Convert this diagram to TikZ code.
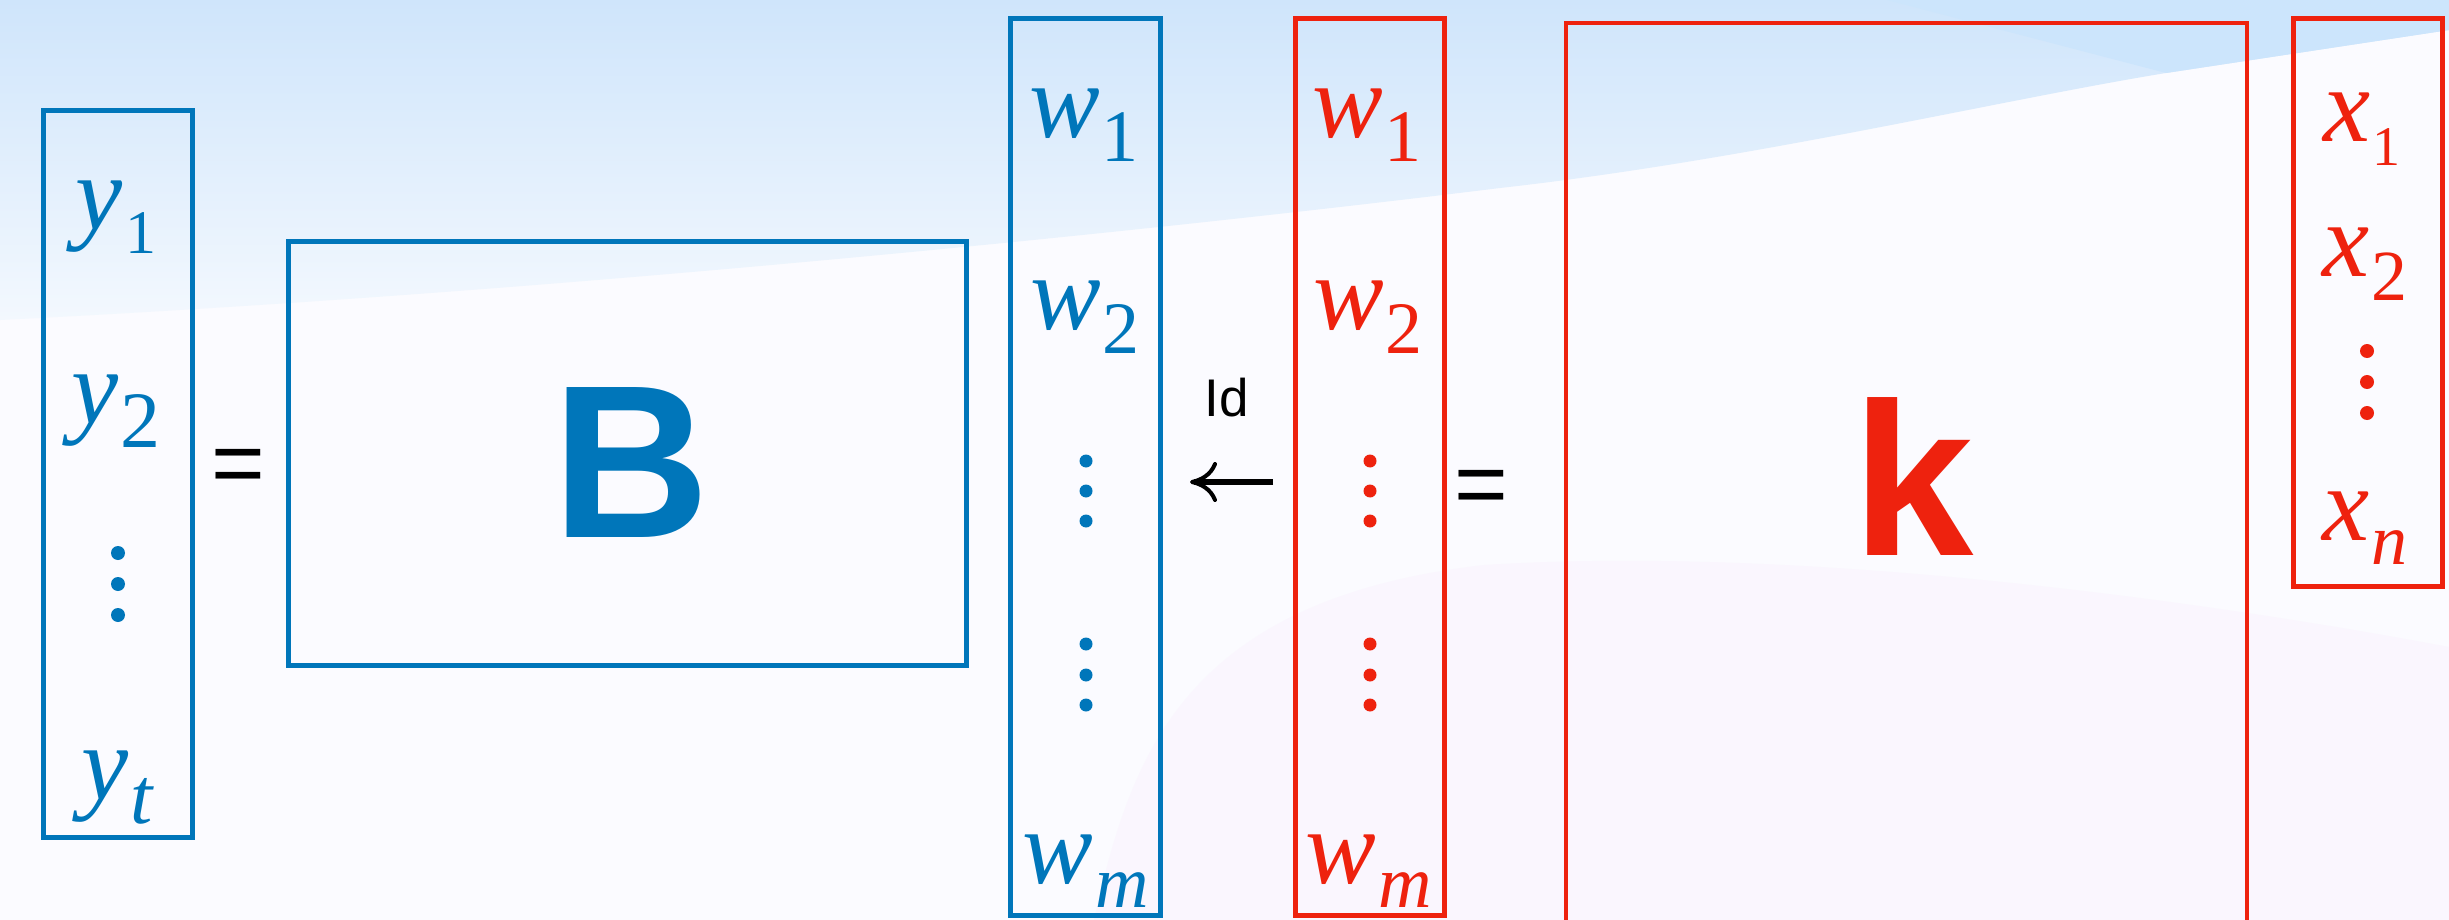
\documentclass[tikz,border=0pt]{standalone}
\usepackage{fontspec}
\setmainfont{Liberation Serif}
\newfontfamily\hsans{Liberation Sans}
\usetikzlibrary{arrows.meta}
\definecolor{vblue}{RGB}{0,118,186}
\definecolor{vred}{RGB}{238,34,14}
\definecolor{bgbase}{RGB}{251,251,255}
\definecolor{lav}{RGB}{250,246,254}
\definecolor{bandtop}{RGB}{207,229,251}
\definecolor{bandbot}{RGB}{243,248,254}
\definecolor{wedge}{RGB}{204,229,252}
\newcommand{\ventry}[3]{{\fontsize{53}{60}\selectfont\itshape #1}\kern1pt\raisebox{-12pt}{\fontsize{#3}{#3}\selectfont #2}}
\tikzset{
  vecbox/.style={line width=2.5pt},
  bluebox/.style={vecbox, draw=vblue},
  redbox/.style={vecbox, draw=vred},
  entry/.style={anchor=base, inner sep=0pt},
  bluetxt/.style={entry, text=vblue},
  redtxt/.style={entry, text=vred},
  bigletter/.style={anchor=base, inner sep=0pt, font=\hsans\bfseries\fontsize{109}{120}\selectfont},
  eqsign/.style={anchor=base, inner sep=0pt, font=\hsans\fontsize{46}{50}\selectfont},
  idarrow/.style={line width=3.4pt, -{Computer Modern Rightarrow[length=13.5pt,width=20pt,line width=2pt]}},
}
\begin{document}
\begin{tikzpicture}[x=0.5pt,y=-0.5pt]
\useasboundingbox (0,0) rectangle (2449,920);
\clip (0,0) rectangle (2449,920);
% background
\fill[bgbase] (0,0) rectangle (2449,920);
\fill[lav] (1094,920) .. controls (1130,760) and (1180,600) .. (1484,565) .. controls (1800,545) and (2200,600) .. (2449,647) -- (2449,920) -- cycle;
\shade[top color=bandtop, bottom color=bandbot] (0,0) -- (2449,0) -- (2449,30) -- (2166,73) .. controls (2000,100) and (1750,160) .. (1500,188) .. controls (1200,225) and (600,290) .. (0,320) -- cycle;
\fill[wedge] (1887,0) -- (2449,0) -- (2449,30) -- (2166,73) -- cycle;

% boxes
\draw[bluebox] (43,110.5) rectangle (192.5,837.5);
\draw[bluebox] (288,241.5) rectangle (966,665.5);
\draw[bluebox] (1010.5,18.5) rectangle (1160,915.5);
\draw[redbox] (1295.5,18.5) rectangle (1444.5,915.5);
\draw[redbox, line width=2pt] (1565.5,23.5) rectangle (2246.5,960);
\draw[redbox] (2293.5,18.5) rectangle (2442.5,586.5);

% y vector
\node[bluetxt] (y1) at (116,229) {\ventry{y}{1}{31}};
\node[bluetxt] (y2) at (116,423) {\ventry{y}{2}{40}};
\node[bluetxt] (yt) at (117,799) {\ventry{y}{\itshape t}{40}};
\foreach \yy in {553,584,615} \fill[vblue] (118,\yy) circle (7);

% equals
\node[eqsign] (eq1) at (238.5,494) {=};
\node[eqsign] (eq2) at (1481,515) {=};

% B
\node[bigletter, text=vblue] (B) at (631,537) {B};

% blue w
\node[bluetxt] (bw1) at (1084,138) {\ventry{w}{1}{37}};
\node[bluetxt] (bw2) at (1085,329) {\ventry{w}{2}{37}};
\node[bluetxt] (bwm) at (1086,883) {\ventry{w}{\itshape m}{37}};
\foreach \yy in {461,491,521,644,675,705} \fill[vblue] (1086,\yy) circle (6.5);

% red w
\node[redtxt] (rw1) at (1367,138) {\ventry{w}{1}{37}};
\node[redtxt] (rw2) at (1368,329) {\ventry{w}{2}{37}};
\node[redtxt] (rwm) at (1369,883) {\ventry{w}{\itshape m}{37}};
\foreach \yy in {461,491,521,644,675,705} \fill[vred] (1370,\yy) circle (6.5);

% arrow and label
\coordinate (arrS) at (1273,482);
\coordinate (arrE) at (1190,482);
\draw[idarrow] (arrS) -- (arrE);
\node[anchor=base, inner sep=0pt, font=\hsans\fontsize{26.5}{30}\selectfont] (idlab) at (1227,416) {Id};

% k
\node[bigletter, text=vred] (K) at (1913,555) {k};

% x vector
\node[redtxt] (x1) at (2362,142) {\ventry{x}{1}{28}};
\node[redtxt] (x2) at (2365,277) {\ventry{x}{2}{36}};
\node[redtxt] (xn) at (2365,540) {\ventry{x}{\itshape n}{36}};
\foreach \yy in {351,382,413} \fill[vred] (2367,\yy) circle (7);
\end{tikzpicture}
\end{document}
